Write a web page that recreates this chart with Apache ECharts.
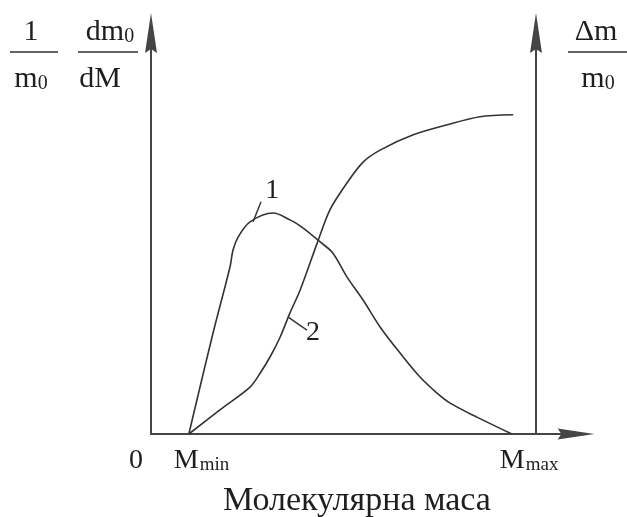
<!DOCTYPE html>
<html>
<head>
<meta charset="utf-8">
<script src="https://cdn.jsdelivr.net/npm/echarts@6/dist/echarts.min.js"></script>
<style>
  html, body { margin: 0; padding: 0; background: #fff; }
  #chart { width: 627px; height: 517px; }
</style>
</head>
<body>
<div id="chart"></div>
<script>
// Molecular mass in relative units along the horizontal axis (0 … 100)
const massDifferential = [8.9, 14.6, 18.6, 19.3, 20.5, 23.3, 28.7, 32.7, 35.1, 39.8, 42.8, 46.1, 49.9, 53.9, 58.6, 63.3, 67.3, 70.4, 76.7, 84.9];
// Curve 1: differential distribution (1/m0)·dm0/dM
const differentialValues = [0, 25.2, 41.7, 45.9, 49.1, 52.9, 55.1, 53.4, 51.9, 47.9, 45.1, 39.2, 33.4, 26.7, 20.2, 14.2, 10.2, 7.7, 4.2, 0];

const massIntegral = [8.9, 16.2, 23.3, 25.7, 28.0, 30.4, 32.7, 35.1, 39.1, 42.1, 46.1, 49.9, 53.9, 61.7, 69.7, 77.4, 85.2];
// Curve 2: integral distribution Δm/m0
const integralValues = [0, 6.0, 11.7, 15.2, 19.2, 24.2, 30.2, 35.9, 47.6, 55.9, 62.6, 67.8, 70.8, 74.6, 77.1, 79.1, 79.6];

// Marked points on the mass axis
const massTicks = [0, 8.9, 84.9];
const massTickNames = ['0', 'min', 'max'];

const pair = (xs, ys) => xs.map((x, i) => [x, ys[i]]);

const FONT = "'Liberation Serif', 'DejaVu Serif', serif";
const AXIS_COLOR = '#454545';
const CURVE_COLOR = '#333';
const TEXT_COLOR = '#1e1e1e';
// slim dart-shaped arrowhead for the axis ends
const ARROW = 'path://M6,0 L12,40 L6,36 L0,40 Z';

const axisLine = (size) => ({
  show: true,
  symbol: ['none', ARROW],
  symbolSize: size,
  lineStyle: { color: AXIS_COLOR, width: 2 }
});

const chart = echarts.init(document.getElementById('chart'), null, { renderer: 'canvas' });

chart.setOption({
  animation: false,
  backgroundColor: '#fff',
  grid: { left: 151, right: 51, top: 33, bottom: 83 },
  xAxis: {
    type: 'value', min: 0, max: 100,
    axisLine: axisLine([11, 38]),
    axisTick: { show: false }, axisLabel: { show: false }, splitLine: { show: false }
  },
  yAxis: [
    {
      type: 'value', min: 0, max: 100, position: 'left',
      axisLine: axisLine([12, 40]),
      axisTick: { show: false }, axisLabel: { show: false }, splitLine: { show: false }
    },
    {
      type: 'value', min: 0, max: 100, position: 'right', offset: -40,
      axisLine: axisLine([12, 40]),
      axisTick: { show: false }, axisLabel: { show: false }, splitLine: { show: false }
    }
  ],
  series: [
    {
      name: '1', type: 'line', yAxisIndex: 0, smooth: 0.35, showSymbol: false,
      lineStyle: { color: CURVE_COLOR, width: 1.6 },
      data: pair(massDifferential, differentialValues)
    },
    {
      name: '2', type: 'line', yAxisIndex: 1, smooth: 0.3, showSymbol: false,
      lineStyle: { color: CURVE_COLOR, width: 1.6 },
      data: pair(massIntegral, integralValues)
    },
    // short leader strokes that tie the curve numbers to the curves
    {
      type: 'line', showSymbol: false, silent: true,
      lineStyle: { color: CURVE_COLOR, width: 1.4 },
      data: [[24.0, 52.9], [25.9, 57.9]]
    },
    {
      type: 'line', showSymbol: false, silent: true,
      lineStyle: { color: CURVE_COLOR, width: 1.4 },
      data: [[32.2, 29.2], [36.7, 25.9]]
    }
  ]
});

// Text annotations placed through the axis scales
const px = (x, y) => chart.convertToPixel({ gridIndex: 0 }, [x, y]);

const rich = {
  a: { fontFamily: FONT, fontSize: 30, color: TEXT_COLOR, verticalAlign: 'bottom' },
  s: { fontFamily: FONT, fontSize: 20, color: TEXT_COLOR, verticalAlign: 'bottom' },
  M: { fontFamily: FONT, fontSize: 28, color: TEXT_COLOR, verticalAlign: 'bottom' },
  t: { fontFamily: FONT, fontSize: 19, color: TEXT_COLOR, verticalAlign: 'bottom', padding: [0, 0, 0, 1] }
};
const text = (x, y, str, align, size) => ({
  type: 'text', x, y,
  style: { text: str, fontFamily: FONT, fontSize: size || 30, fill: TEXT_COLOR, align: align || 'center', verticalAlign: 'middle', rich }
});
const bar = (x1, x2, y) => ({
  type: 'line', shape: { x1, y1: y, x2, y2: y },
  style: { stroke: '#666', lineWidth: 2 }
});

const origin = px(massTicks[0], 0);
const pMin = px(massTicks[1], 0);
const pMax = px(massTicks[2], 0);
const lab1 = px(28.5, 60.8);
const lab2 = px(38.1, 25.4);

chart.setOption({
  graphic: [
    // left axis title: (1/m0) · (dm0/dM)
    text(31, 32, '1'),
    bar(10, 58, 52),
    text(31, 79, '{a|m}{s|0}'),
    text(110, 32, '{a|dm}{s|0}'),
    bar(78, 138, 52),
    text(100, 79, 'dM'),
    // right axis title: Δm/m0
    text(596, 32, 'Δm'),
    bar(568, 627, 52),
    text(598, 79, '{a|m}{s|0}'),
    // mass axis marks
    text(origin[0] - 8, 461, massTickNames[0], 'right', 28),
    text(pMin[0] - 15, 461, '{M|M}{t|' + massTickNames[1] + '}', 'left', 28),
    text(pMax[0] - 12, 461, '{M|M}{t|' + massTickNames[2] + '}', 'left', 28),
    text(357, 501, 'Молекулярна маса', 'center', 34),
    // curve numbers
    text(lab1[0], lab1[1], '1', 'center', 28),
    text(lab2[0], lab2[1], '2', 'center', 28)
  ]
});
</script>
</body>
</html>
